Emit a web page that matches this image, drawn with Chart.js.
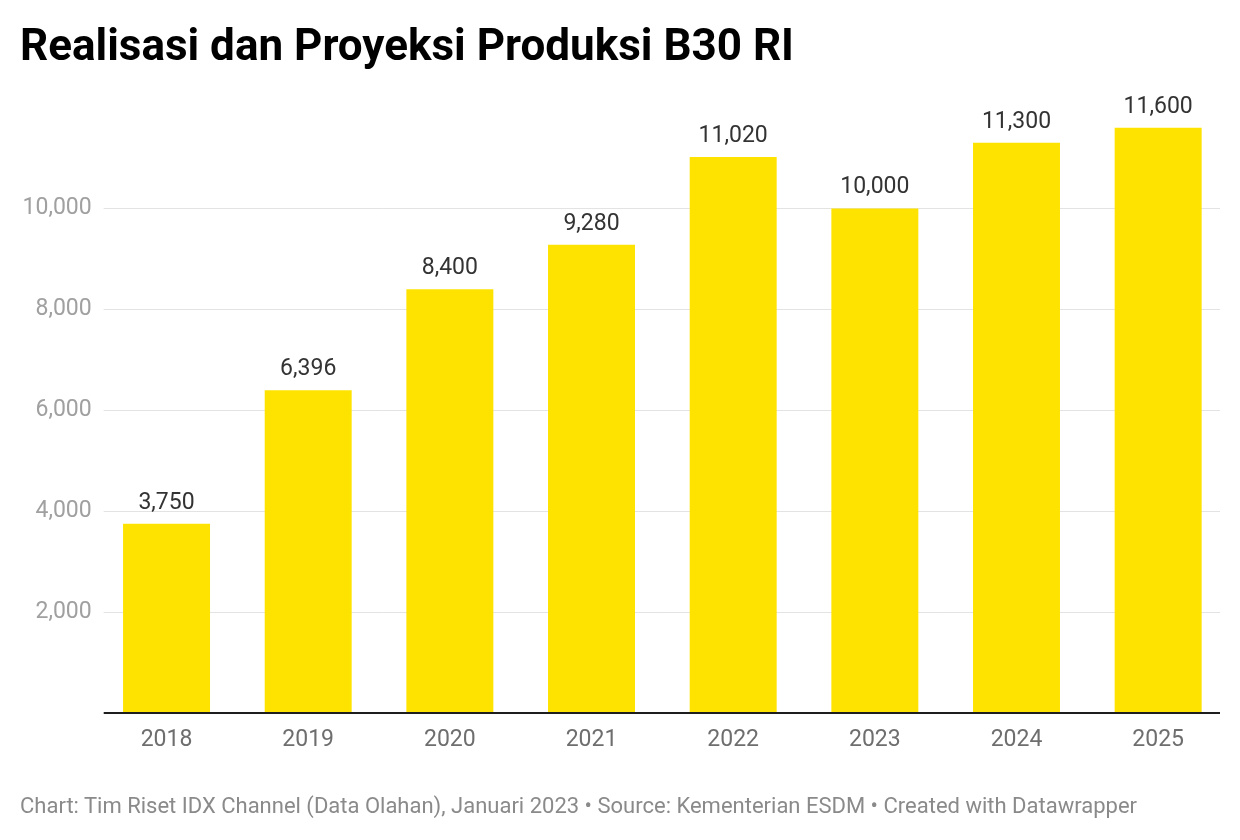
<!DOCTYPE html>
<html>
<head>
<meta charset="utf-8">
<script src="https://cdn.jsdelivr.net/npm/chart.js@4"></script>
<style>
  html, body { margin: 0; padding: 0; background: #fff; }
  #wrap { position: relative; width: 1240px; height: 840px; }
  #title { position: absolute; left: 20px; top: 23px; font: 700 44px Roboto, sans-serif; line-height: 44px; color: #000; white-space: nowrap; }
  #note { position: absolute; left: 20px; top: 794.5px; font: 400 22px Roboto, sans-serif; line-height: 22px; color: #8a8a8a; white-space: nowrap; }
  canvas { position: absolute; left: 0; top: 0; }
</style>
</head>
<body>
<div id="wrap">
  <canvas id="myChart" width="1240" height="840"></canvas>
  <div id="title">Realisasi dan Proyeksi Produksi B30 RI</div>
  <div id="note">Chart: Tim Riset IDX Channel (Data Olahan), Januari 2023 • Source: Kementerian ESDM • Created with Datawrapper</div>
</div>
<script>
// data
const years = ['2018', '2019', '2020', '2021', '2022', '2023', '2024', '2025'];
const produksi = [3750, 6396, 8400, 9280, 11020, 10000, 11300, 11600];
const yTicks = [2000, 4000, 6000, 8000, 10000];

const fmt = v => v.toLocaleString('en-US');

// gridlines + baseline, a bit narrower than the bar area (datawrapper style)
const gridPlugin = {
    id: 'grid',
    beforeDatasetsDraw(chart) {
        const c = chart.ctx, y = chart.scales.y, a = chart.chartArea;
        const x0 = a.left + 8, x1 = a.right - 9;
        c.save();
        c.strokeStyle = '#e3e3e3';
        c.lineWidth = 1;
        yTicks.forEach(v => {
            const py = Math.round(y.getPixelForValue(v)) + 0.5;
            c.beginPath(); c.moveTo(x0, py); c.lineTo(x1, py); c.stroke();
        });
        c.restore();
    },
    afterDatasetsDraw(chart) {
        const c = chart.ctx, y = chart.scales.y, a = chart.chartArea;
        c.save();
        c.strokeStyle = '#1e1e1e';
        c.lineWidth = 2;
        const py = y.getPixelForValue(0);
        c.beginPath(); c.moveTo(a.left + 8, py); c.lineTo(a.right - 9, py); c.stroke();
        // value labels
        c.fillStyle = '#333';
        c.font = '23px Roboto, sans-serif';
        c.textAlign = 'center';
        c.textBaseline = 'alphabetic';
        chart.getDatasetMeta(0).data.forEach((bar, i) => {
            c.fillText(fmt(produksi[i]), bar.x, bar.y - 15);
        });
        c.restore();
    }
};

const ctx = document.getElementById('myChart').getContext('2d');
const myChart = new Chart(ctx, {
    type: 'bar',
    data: {
        labels: years,
        datasets: [{
            data: produksi,
            backgroundColor: '#ffe300',
            borderWidth: 0,
            categoryPercentage: 1,
            barPercentage: 0.614
        }]
    },
    options: {
        responsive: false,
        animation: false,
        layout: { padding: { left: 0, right: 11, top: 107.5, bottom: 67 } },
        plugins: { legend: { display: false }, tooltip: { enabled: false } },
        scales: {
            x: {
                grid: { display: false, drawTicks: false },
                border: { display: false },
                ticks: { color: '#6e6e6e', font: { family: 'Roboto', size: 23 }, padding: 13 },
                afterFit: s => { s.height = 60; }
            },
            y: {
                min: 0,
                max: 12000,
                grid: { display: false, drawTicks: false },
                border: { display: false },
                afterBuildTicks: s => { s.ticks = yTicks.map(v => ({ value: v })); },
                ticks: { color: '#a0a0a0', font: { family: 'Roboto', size: 23 }, padding: 4, callback: v => fmt(v) },
                afterFit: s => { s.width = 95.7; }
            }
        }
    },
    plugins: [gridPlugin]
});
</script>
</body>
</html>
